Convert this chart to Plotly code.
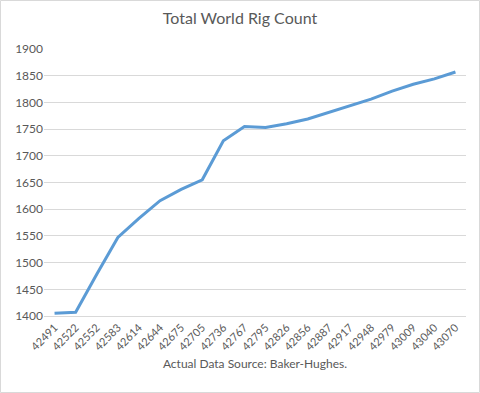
import plotly.graph_objects as go

categories = ["42491", "42522", "42552", "42583", "42614", "42644", "42675", "42705",
              "42736", "42767", "42795", "42826", "42856", "42887", "42917", "42948",
              "42979", "43009", "43040", "43070"]
rig_count = [1405, 1407, 1478, 1547, 1583, 1616, 1637, 1655, 1728, 1755,
             1753, 1760, 1769, 1781, 1793, 1806, 1821, 1834, 1844, 1857]
y_ticks = [1400, 1450, 1500, 1550, 1600, 1650, 1700, 1750, 1800, 1850, 1900]

font_family = "Lato, Open Sans, sans-serif"
text_color = "#595959"

fig = go.Figure()
fig.add_trace(go.Scatter(x=categories, y=rig_count, mode="lines",
                         line=dict(color="#5B9BD5", width=3), hoverinfo="x+y"))

fig.update_layout(
    width=480, height=393,
    margin=dict(l=44, r=14, t=49, b=77, autoexpand=False),
    paper_bgcolor="white", plot_bgcolor="white",
    showlegend=False,
    title=dict(text="Total World Rig Count", x=0.5, xanchor="center", y=1 - 18 / 393,
               yanchor="middle", font=dict(family=font_family, size=16, color=text_color)),
    font=dict(family=font_family, color=text_color),
    xaxis=dict(type="category", range=[-0.5, len(categories) - 0.5], automargin=False,
               tickangle=-45, tickfont=dict(size=11, color=text_color),
               showgrid=False, showline=True, linecolor="#D9D9D9", linewidth=1,
               ticks="", zeroline=False,
               title=dict(text="Actual Data Source: Baker-Hughes.", standoff=8,
                          font=dict(size=12, color=text_color))),
    yaxis=dict(range=[1400, 1900], tickvals=y_ticks, tickfont=dict(size=12, color=text_color),
               automargin=False,
               showgrid=True, gridcolor="#D9D9D9", gridwidth=1, zeroline=False,
               showline=False, ticks="", ticklen=0),
    shapes=[dict(type="rect", xref="paper", yref="paper",
                 x0=-43.5 / 422, x1=1 + 13.5 / 422, y0=-76.5 / 267, y1=1 + 48.5 / 267,
                 line=dict(color="#D9D9D9", width=1), fillcolor="rgba(0,0,0,0)")],
)

fig.write_html("out.html", config={"displayModeBar": False},
               post_script="document.body.style.margin='0';document.body.style.overflow='hidden';")
